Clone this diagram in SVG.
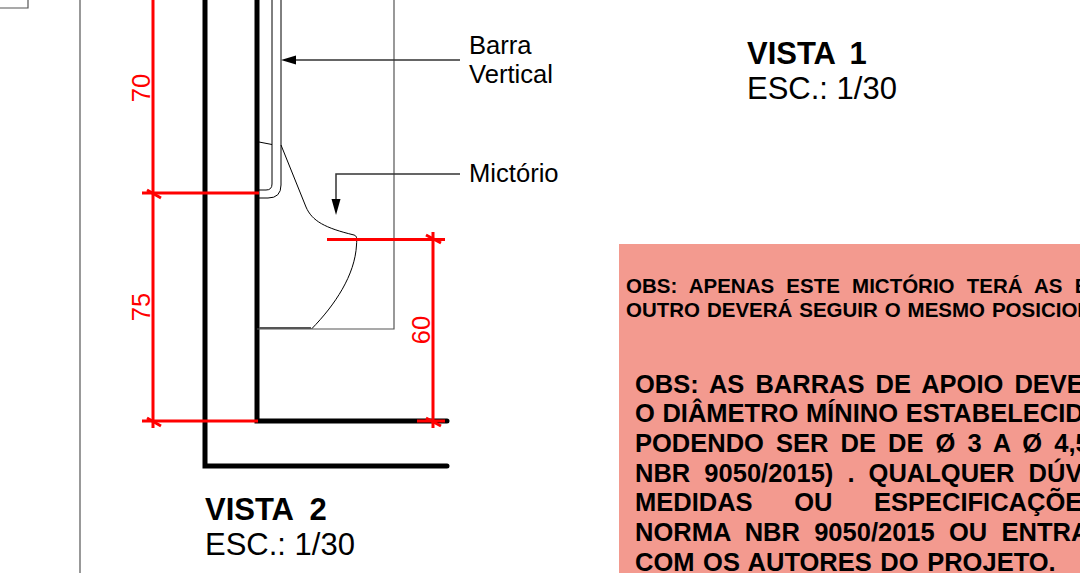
<svg xmlns="http://www.w3.org/2000/svg" width="1080" height="573" viewBox="0 0 1080 573">
<style>
text{font-family:"Liberation Sans",Arial,sans-serif;fill:#000}
.thin{fill:none;stroke:#000;stroke-width:1}
.grey{fill:none;stroke:#555;stroke-width:1.2}
.wall{fill:none;stroke:#000;stroke-width:5;stroke-linecap:round}
.dim{fill:none;stroke:#f00;stroke-width:3}
.dimt{fill:#f00;font-size:25.500px}
.lab{font-size:25.600px}
.lead{fill:none;stroke:#333;stroke-width:1.5}
.t{font-size:31px}
.s{font-size:20.500px;font-weight:bold}
.b{font-size:25.500px;font-weight:bold}
</style>
<rect width="1080" height="573" fill="#fff"/>
<g id="frame">
<path class="grey" d="M0 8H28V0M80 0V573"/>
</g>
<g id="parede">
<path class="wall" d="M205 0V466H447M257 0V421H447"/>
</g>
<g id="barra-vertical">
<path class="thin" d="M259 190H266Q272 190 272 184V0M259 198H268Q281 198 281 185V0"/>
<path class="thin" d="M259 142L272 144.500"/>
</g>
<g id="mictorio">
<path class="thin" d="M281 145L306 207C312 221 325 228 354 235C357 236 357 238 356.500 245C355 275 335 305 311.500 329"/>
<path class="grey" d="M257 329H394V0"/>
<path d="M259 328H311" fill="none" stroke="#555" stroke-width="2"/>
</g>
<g id="cotas">
<path class="dim" d="M153 0V428M142 193H259M142 421H258M433 232V428M327 239.500H445M417 421H445"/>
<path class="dim" d="M147 190L161 198M147 418L161 426M426 235L441 243M426 418L441 426"/>
<text class="dimt" transform="translate(150 88) rotate(-90)" text-anchor="middle">70</text>
<text class="dimt" transform="translate(150 307) rotate(-90)" text-anchor="middle">75</text>
<text class="dimt" transform="translate(430 330) rotate(-90)" text-anchor="middle">60</text>
</g>
<g id="conectores">
<path class="lead" d="M460 60H290M460 174H336V204"/>
<path d="M281 60L296 55.500V64.500Z" fill="#000"/>
<path d="M336 215L331.500 199H340.500Z" fill="#000"/>
</g>
<g id="rotulos">
<text class="lab" x="469" y="54">Barra</text>
<text class="lab" x="469" y="83">Vertical</text>
<text class="lab" x="469" y="182">Mictório</text>
</g>
<g id="vista-1">
<text class="t" x="747" y="64" font-weight="bold" word-spacing="6">VISTA 1</text>
<text class="t" x="747" y="99">ESC.: 1/30</text>
</g>
<g id="vista-2">
<text class="t" x="205" y="520" font-weight="bold" word-spacing="8">VISTA 2</text>
<text class="t" x="205" y="555">ESC.: 1/30</text>
</g>
<g id="observacoes">
<rect x="619" y="244" width="461" height="329" fill="#f39a8f"/>
<text class="s" x="626" y="293" word-spacing="6.500">OBS: APENAS ESTE MICTÓRIO TERÁ AS B</text>
<text class="s" x="626" y="316.500" word-spacing="1.200">OUTRO DEVERÁ SEGUIR O MESMO POSICION</text>
<text class="b" x="635" y="393" word-spacing="4">OBS: AS BARRAS DE APOIO DEVE</text>
<text class="b" x="635" y="422" word-spacing="0.500">O DIÂMETRO MÍNINO ESTABELECID</text>
<text class="b" x="635" y="452" word-spacing="5">PODENDO SER DE DE Ø 3 A Ø 4,5</text>
<text class="b" x="635" y="482" word-spacing="7">NBR 9050/2015) . QUALQUER DÚV</text>
<text class="b" x="635" y="511" word-spacing="34.500">MEDIDAS OU ESPECIFICAÇÕE</text>
<text class="b" x="635" y="541" word-spacing="7.200">NORMA NBR 9050/2015 OU ENTRA</text>
<text class="b" x="635" y="570.500" word-spacing="1.500">COM OS AUTORES DO PROJETO.</text>
</g>
</svg>
